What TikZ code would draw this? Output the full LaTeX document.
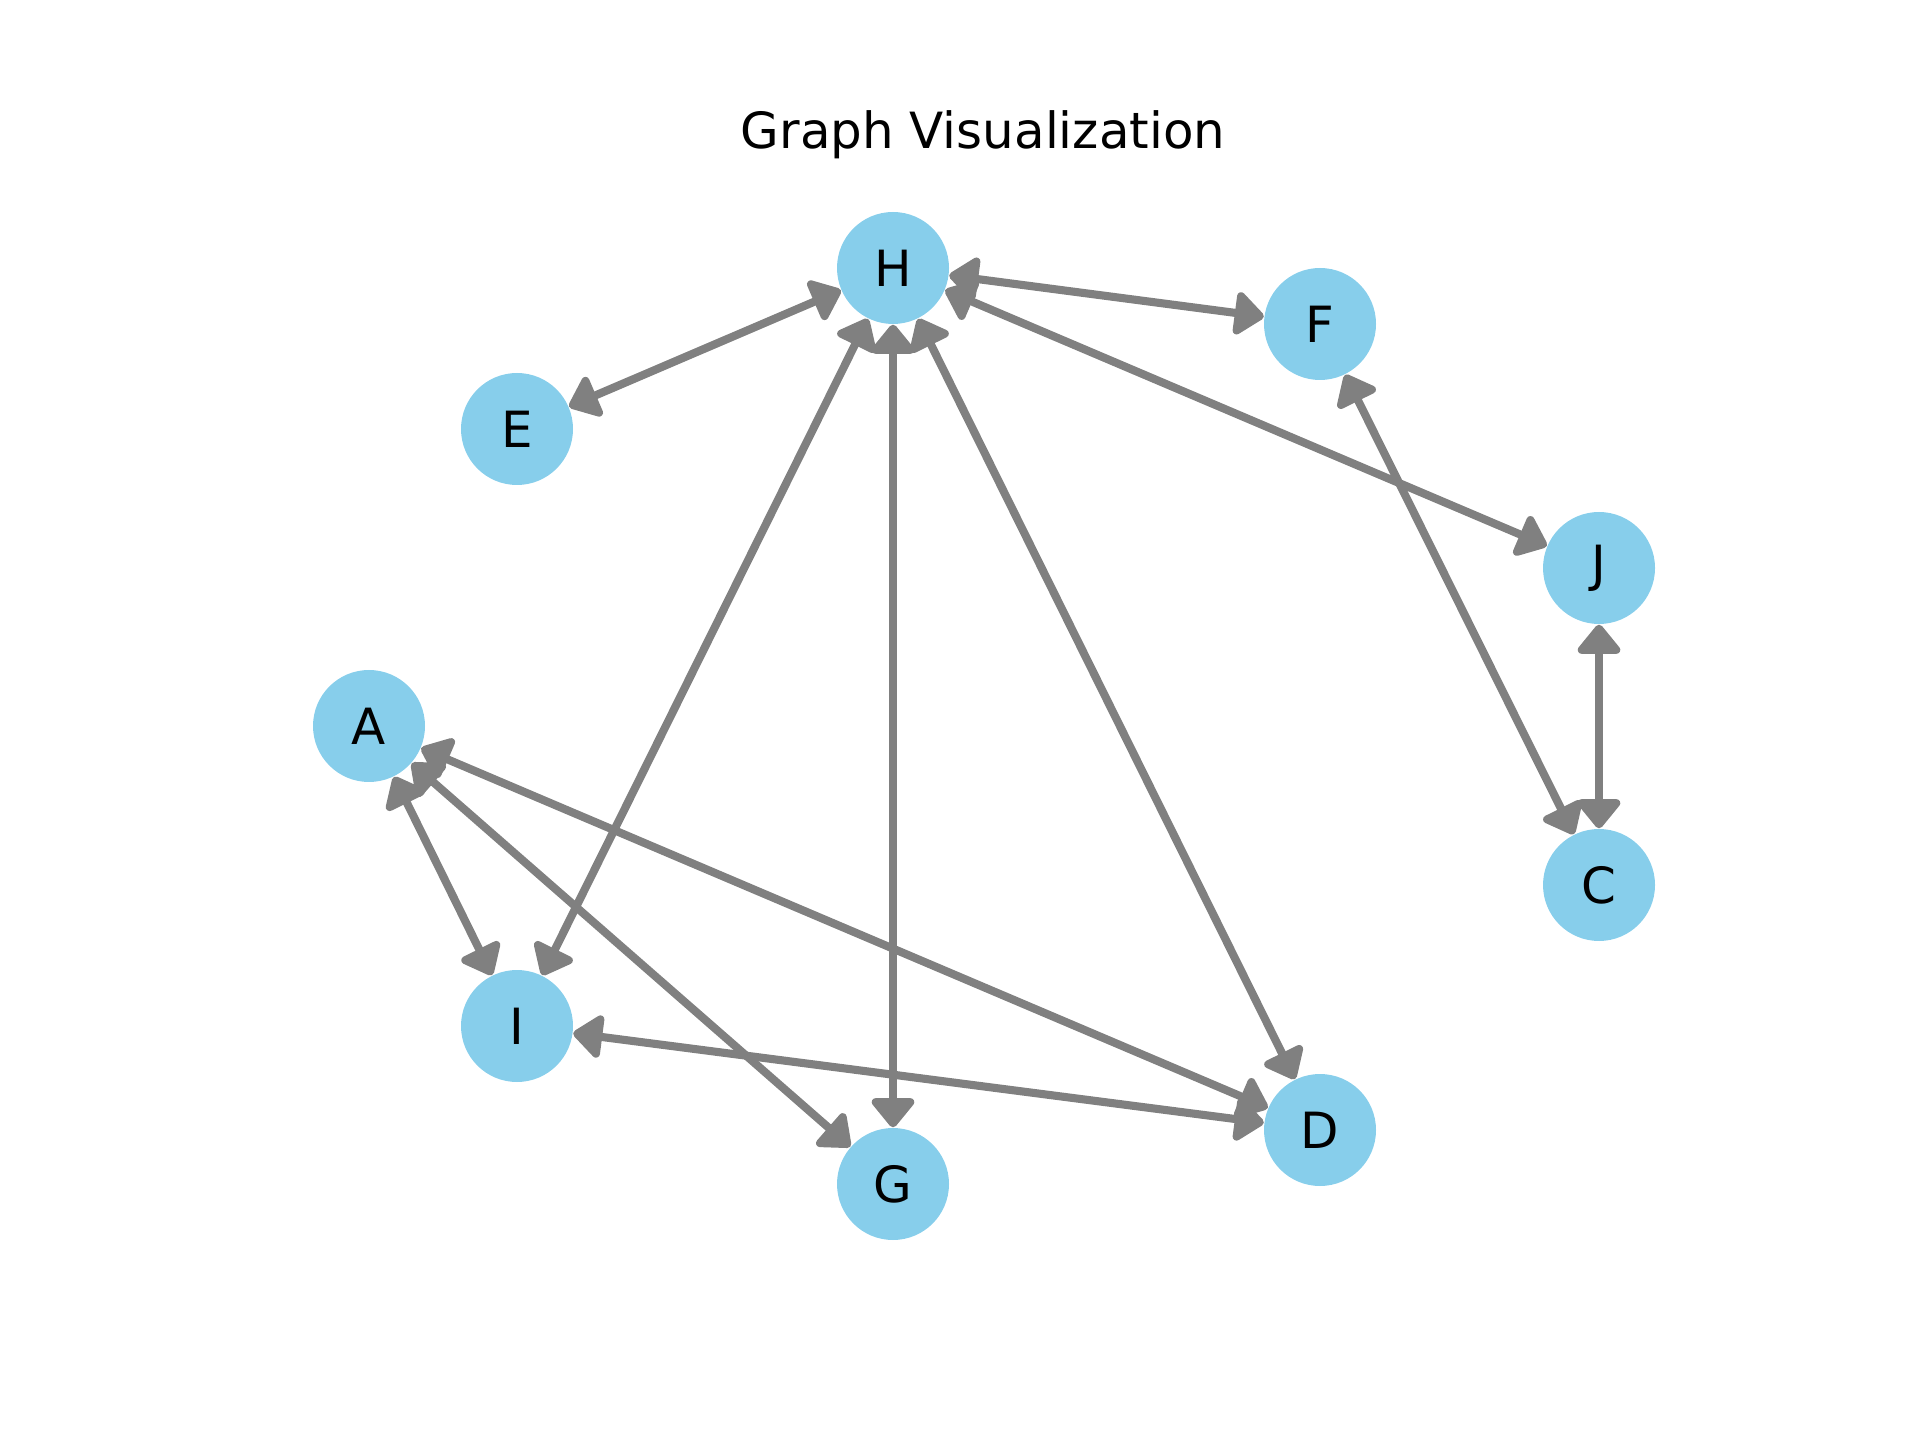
\documentclass[tikz,border=0pt]{standalone}
\usepackage{fontspec}
\setmainfont{DejaVu Sans}
\usetikzlibrary{arrows.meta}
\usetikzlibrary{backgrounds}
\definecolor{skyblue}{HTML}{87CEEB}
\definecolor{edgegray}{HTML}{808080}

\begin{document}
\begin{tikzpicture}[%
        vertex/.style = {circle, fill = skyblue, minimum size = 1.12cm, inner sep = 0pt, font = \fontsize{14.2}{16}\selectfont},
        link/.style = {draw = edgegray, line width = 2.3pt, {Triangle[round, length = 9pt, width = 14pt]}-{Triangle[round, length = 9pt, width = 14pt]}},
        ]

\useasboundingbox (0,0) rectangle (19.2,14.4);

\node (title) at (9.83,13.05) {\fontsize{14.2}{16}\selectfont Graph Visualization};

% nodes
\foreach \NAME/\POS in {H/{8.93,11.72}, F/{13.20,11.16}, E/{5.17,10.11}, J/{15.99,8.72}, A/{3.69,7.14}, C/{15.99,5.55}, I/{5.17,4.14}, D/{13.20,3.10}, G/{8.93,2.56}}{%
    \node (\NAME) [vertex] at (\POS) {\NAME};
    }

% edges, both ways
\begin{scope}[on background layer]
\foreach \FROM/\TO in {H/E, H/F, H/J, H/I, H/G, H/D, F/C, J/C, A/I, A/G, A/D, I/D}{%
    \draw[link] (\FROM) -- (\TO);
    }
\end{scope}

\end{tikzpicture}
\end{document}
